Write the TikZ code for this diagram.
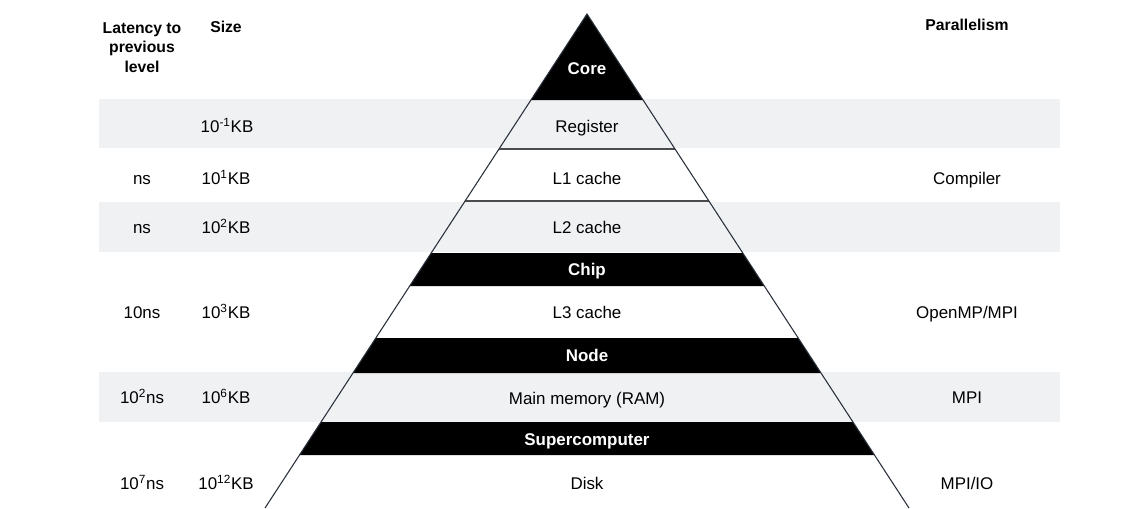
\documentclass[tikz,border=0pt]{standalone}
\usepackage{fontspec}
\setmainfont{Liberation Sans}
\definecolor{bandgray}{RGB}{239,241,243}
\definecolor{edgecol}{RGB}{40,48,58}
\newcommand\tiertrap[2]{\fill[tier] ({587-0.652*(#1-14)},#1) -- ({587+0.652*(#1-14)},#1) -- ({587+0.652*(#2-14)},#2) -- ({587-0.652*(#2-14)},#2) -- cycle;}
\newcommand\sx[1]{\textsuperscript{#1}}
\begin{document}
\begin{tikzpicture}[x=0.75pt,y=-0.75pt,
  lab/.style={font=\fontsize{12.7}{14}\selectfont, inner sep=0pt, anchor=base},
  hdr/.style={font=\fontsize{11.8}{14.6}\selectfont\bfseries, inner sep=0pt, align=center},
  blk/.style={text=white, font=\fontsize{12.7}{14}\selectfont\bfseries, inner sep=0pt, anchor=base},
  band/.style={fill=bandgray, draw=none},
  tier/.style={fill=black, draw=none},
  edge/.style={draw=edgecol, line width=0.8pt},
  sep/.style={draw=black!70, line width=0.8pt}]
\useasboundingbox (0,0) rectangle (1140,508);
\fill[white] (0,0) rectangle (1140,508);
% gray bands
\path[band] (99,99) rectangle (1060,148);
\path[band] (99,202) rectangle (1060,252);
\path[band] (99,372) rectangle (1060,422);
% black tiers
\fill[tier] (587,14) -- ({587-0.652*86},100) -- ({587+0.652*86},100) -- cycle;
\tiertrap{253}{286}
\tiertrap{338}{373}
\tiertrap{422}{455}
% separators
\draw[sep] ({587-0.652*135},149) -- ({587+0.652*135},149);
\draw[sep] ({587-0.652*187},201) -- ({587+0.652*187},201);
% pyramid outline
\coordinate (apex) at (587,14);
\coordinate (bl) at (265,508);
\coordinate (br) at (909,508);
\draw[edge] (bl) -- (apex) -- (br);
% headers
\node[hdr] (hlat) at (142,47.5) {Latency to\\previous\\level};
\node[hdr] (hsize) at (226,27) {Size};
\node[hdr] (hpar) at (967,25) {Parallelism};
% pyramid labels (baseline = visual centre + 6)
\node[blk] (core) at (587,74) {Core};
\node[lab] (reg) at (587,132) {Register};
\node[lab] (l1) at (587,184) {L1 cache};
\node[lab] (l2) at (587,233) {L2 cache};
\node[blk] (chip) at (587,275.5) {Chip};
\node[lab] (l3) at (587,318) {L3 cache};
\node[blk] (nodeT) at (587,361.5) {Node};
\node[lab] (ram) at (587,404) {Main memory (RAM)};
\node[blk] (sc) at (587,445) {Supercomputer};
\node[lab] (disk) at (587,489) {Disk};
% latency
\node[lab] (lat1) at (142,184) {ns};
\node[lab] (lat2) at (142,233) {ns};
\node[lab] (lat3) at (142,318) {10ns};
\node[lab] (lat4) at (142,403) {10\sx{2}ns};
\node[lab] (lat5) at (142,489) {10\sx{7}ns};
% size
\node[lab] (s0) at (227,132) {10\sx{-1}KB};
\node[lab] (s1) at (226,184) {10\sx{1}KB};
\node[lab] (s2) at (226,233) {10\sx{2}KB};
\node[lab] (s3) at (226,318) {10\sx{3}KB};
\node[lab] (s4) at (226,403) {10\sx{6}KB};
\node[lab] (s5) at (226,489) {10\sx{12}KB};
% parallelism
\node[lab] (p1) at (967,184) {Compiler};
\node[lab] (p2) at (967,318) {OpenMP/MPI};
\node[lab] (p3) at (967,403) {MPI};
\node[lab] (p4) at (967,489) {MPI/IO};
\end{tikzpicture}
\end{document}
